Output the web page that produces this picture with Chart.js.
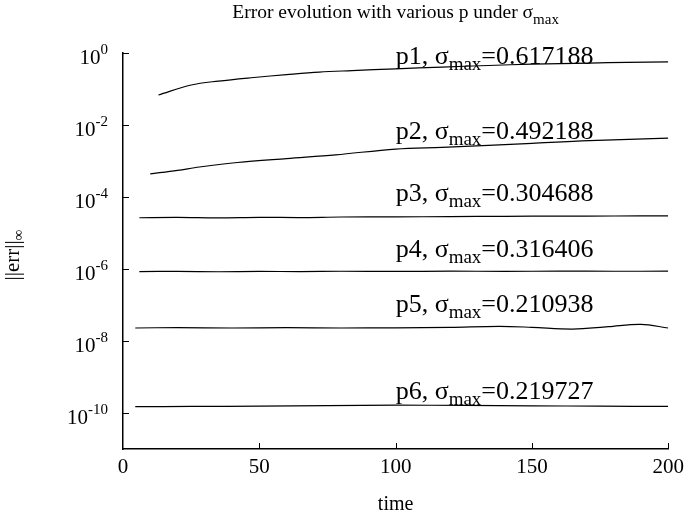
<!DOCTYPE html>
<html>
<head>
<meta charset="utf-8">
<script src="https://cdn.jsdelivr.net/npm/chart.js@4.4.1/dist/chart.umd.min.js"></script>
<style>
  html, body { margin: 0; padding: 0; background: #fff; }
  #wrap { width: 690px; height: 525px; }
</style>
</head>
<body>
<div id="wrap"><canvas id="chart" width="690" height="525"></canvas></div>
<script>
// series data
const seriesNames = ['p1', 'p2', 'p3', 'p4', 'p5', 'p6'];
const sigmaMax = ['0.617188', '0.492188', '0.304688', '0.316406', '0.210938', '0.219727'];

const t1 = [13, 25, 35, 48, 60, 72, 84, 100, 117, 134, 150, 171, 185, 200];
const err1 = [0.068, 0.129, 0.166, 0.209, 0.251, 0.295, 0.324, 0.363, 0.407, 0.45, 0.49, 0.525, 0.55, 0.565];

const t2 = [10, 20, 28, 42, 60, 78, 100, 117, 134, 150, 171, 200];
const err2 = [4.4e-4, 5.5e-4, 6.8e-4, 9.1e-4, 1.17e-3, 1.48e-3, 2.15e-3, 2.4e-3, 2.7e-3, 3.1e-3, 3.7e-3, 4.3e-3];

const t3 = [6, 20, 35, 50, 65, 80, 100, 120, 140, 160, 180, 200];
const err3 = [2.65e-5, 2.7e-5, 2.62e-5, 2.72e-5, 2.68e-5, 2.78e-5, 2.8e-5, 2.86e-5, 2.9e-5, 2.95e-5, 2.97e-5, 3.0e-5];

const t4 = [6, 20, 35, 50, 65, 80, 100, 120, 140, 160, 180, 200];
const err4 = [8.5e-7, 8.6e-7, 8.4e-7, 8.6e-7, 8.45e-7, 8.65e-7, 8.55e-7, 8.7e-7, 8.6e-7, 8.7e-7, 8.65e-7, 8.7e-7];

const t5 = [4.5, 20, 40, 60, 80, 100, 120, 138, 150, 165, 178, 190, 200];
const err5 = [2.3e-8, 2.35e-8, 2.3e-8, 2.35e-8, 2.3e-8, 2.33e-8, 2.4e-8, 2.55e-8, 2.4e-8, 2.15e-8, 2.5e-8, 2.9e-8, 2.3e-8];

const t6 = [4.5, 25, 50, 75, 100, 125, 150, 175, 200];
const err6 = [1.5e-10, 1.52e-10, 1.55e-10, 1.6e-10, 1.65e-10, 1.62e-10, 1.58e-10, 1.55e-10, 1.52e-10];

// where each curve label sits (time, error value at text baseline)
const labelTime = 100;
const labelAt = [0.51, 4.1e-3, 7.6e-5, 2.2e-6, 6.3e-8, 2.45e-10];

const yTickExps = [0, -2, -4, -6, -8, -10];
const xTicks = [0, 50, 100, 150, 200];

const FONT = '"Liberation Serif", "Times New Roman", serif';

const times = [t1, t2, t3, t4, t5, t6];
const errs = [err1, err2, err3, err4, err5, err6];

const datasets = errs.map((e, i) => ({
  label: seriesNames[i],
  data: e.map((v, j) => ({ x: times[i][j], y: v })),
  borderColor: '#000',
  borderWidth: 1.2,
  pointRadius: 0,
  tension: 0.35,
  fill: false
}));

// text with a subscript/superscript piece, left to right
function drawParts(ctx, parts, x, y) {
  let cx = x;
  parts.forEach(p => {
    ctx.font = p.size + 'px ' + FONT;
    ctx.fillText(p.text, cx, y + (p.dy || 0));
    cx += ctx.measureText(p.text).width;
  });
  return cx;
}
function partsWidth(ctx, parts) {
  let w = 0;
  parts.forEach(p => {
    ctx.font = p.size + 'px ' + FONT;
    w += ctx.measureText(p.text).width;
  });
  return w;
}

const textPlugin = {
  id: 'textPlugin',
  afterDraw(chart) {
    const ctx = chart.ctx;
    const area = chart.chartArea;
    const xs = chart.scales.x, ys = chart.scales.y;
    ctx.save();
    ctx.fillStyle = '#000';
    ctx.textBaseline = 'alphabetic';
    ctx.textAlign = 'left';

    // title
    const title = [
      { text: 'Error evolution with various p under σ', size: 19.5 },
      { text: 'max', size: 15, dy: 6 }
    ];
    const cx = (area.left + area.right) / 2;
    drawParts(ctx, title, cx - partsWidth(ctx, title) / 2, 18);

    // inward tick marks
    ctx.strokeStyle = '#000';
    ctx.lineWidth = 1;
    yTickExps.forEach(e => {
      const py = Math.round(ys.getPixelForValue(Math.pow(10, e))) + 0.5;
      ctx.beginPath();
      ctx.moveTo(area.left, py);
      ctx.lineTo(area.left + 6, py);
      ctx.stroke();
    });
    xTicks.slice(1).forEach(v => {
      const px = Math.round(xs.getPixelForValue(v)) + 0.5;
      ctx.beginPath();
      ctx.moveTo(px, area.bottom);
      ctx.lineTo(px, area.bottom - 6);
      ctx.stroke();
    });

    // y tick labels 10^n
    yTickExps.forEach(e => {
      const py = ys.getPixelForValue(Math.pow(10, e));
      const parts = [
        { text: '10', size: 21, dy: 11 },
        { text: String(e), size: 15, dy: 1 }
      ];
      drawParts(ctx, parts, area.left - 15 - partsWidth(ctx, parts), py);
    });

    // curve labels
    seriesNames.forEach((name, i) => {
      const px = xs.getPixelForValue(labelTime);
      const py = ys.getPixelForValue(labelAt[i]);
      drawParts(ctx, [
        { text: name + ', σ', size: 26 },
        { text: 'max', size: 19, dy: 6 },
        { text: '=' + sigmaMax[i], size: 26 }
      ], px, py);
    });

    // y axis title ||err||∞
    ctx.translate(19, (area.top + area.bottom) / 2 + 4);
    ctx.rotate(-Math.PI / 2);
    const yt = [
      { text: '||err||', size: 21 },
      { text: '∞', size: 15, dy: 4 }
    ];
    drawParts(ctx, yt, -partsWidth(ctx, yt) / 2, 0);
    ctx.restore();
  }
};

new Chart(document.getElementById('chart'), {
  type: 'line',
  data: { datasets: datasets },
  options: {
    responsive: false,
    animation: false,
    layout: { padding: { top: 53, right: 21, left: 0, bottom: 0 } },
    plugins: {
      legend: { display: false },
      title: { display: false },
      tooltip: { enabled: false }
    },
    scales: {
      x: {
        type: 'linear',
        min: 0,
        max: 200,
        ticks: { stepSize: 50, color: '#000', font: { family: FONT, size: 21 }, padding: 6, maxRotation: 0 },
        grid: { display: false, drawTicks: false },
        border: { display: true, color: '#000', width: 1.5 },
        title: { display: true, text: 'time', color: '#000', font: { family: FONT, size: 20 }, padding: { top: 0, bottom: 8 } },
        afterFit: s => { s.height = 76; }
      },
      y: {
        type: 'logarithmic',
        min: 1e-11,
        max: 1,
        ticks: { display: false },
        grid: { display: false, drawTicks: false },
        border: { display: true, color: '#000', width: 1.5 },
        afterFit: s => { s.width = 123; }
      }
    }
  },
  plugins: [textPlugin]
});
</script>
</body>
</html>
